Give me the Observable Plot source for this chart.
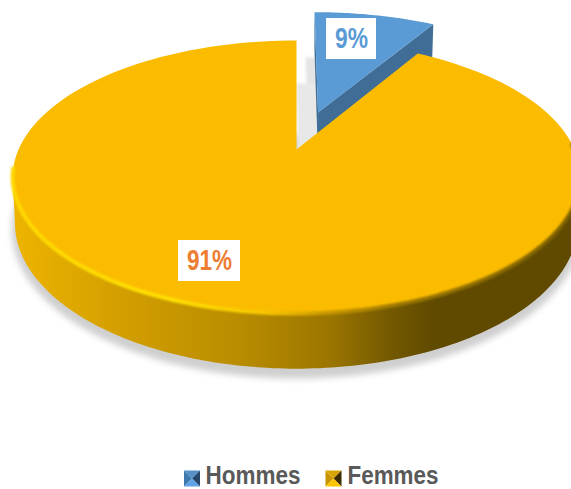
<!DOCTYPE html>
<html>
<head>
<meta charset="utf-8">
<script src="https://cdn.jsdelivr.net/npm/d3@7"></script>
<script src="https://cdn.jsdelivr.net/npm/@observablehq/plot@0.6"></script>
<style>html,body{margin:0;padding:0;background:#fff;overflow:hidden}svg{display:block}</style>
</head>
<body>
<div id="chart"></div>
<script>
const categories = ["Hommes", "Femmes"];
const shares = [8.55, 91.45];
const sliceLabels = ["9%", "91%"];

const W = 571, H = 489;
const cx = 296, cy = 149, a = 278, b = 131, k = 0.2015, T = 44;
const rad = d => d * Math.PI / 180;
function project(deg, r, opt = {}) {
  const {z = 0, du = 0, dv = 0, scale = 1} = opt;
  const u = r * Math.sin(rad(deg)) * scale + du;
  const v = r * Math.cos(rad(deg)) * scale + dv;
  const w = 1 + k * v;
  return {px: cx + (a * u / w) * (1 - 0.008 * z), py: cy - b * v / w + z * T / w};
}
const arc = (from, to, opt, n = 160) => d3.range(n + 1).map(i => project(from + (to - from) * i / n, 1, opt));
const total = d3.sum(shares);
const sweep = 360 * shares[0] / total;
const mid = sweep / 2;
const explode = 0.31;
const off = {du: explode * Math.sin(rad(mid)), dv: explode * Math.cos(rad(mid)), scale: 1.03};
const apex = project(0, 0);

const yellowTop = [apex, ...arc(sweep, 360)];
const blueTop = [project(0, 0, off), ...arc(0, sweep, off, 40)];
const blueCutWall = [project(0, 0, off), project(sweep, 1, off), project(sweep, 1, {...off, z: 1}), project(0, 0, {...off, z: 1})];
const blueLeftWall = [project(0, 0, off), project(0, 1, off), project(0, 1, {...off, z: 1}), project(0, 0, {...off, z: 1})];
const sideWall = [...arc(101.5, 258.5), ...arc(258.5, 101.5, {z: 1})];
const pieShadow = arc(60, 300, {z: 1.13, scale: 1.012});
const blueShadowNear = blueTop.map(p => ({px: p.px - 9, py: p.py + 45}));
const blueShadowFar = blueTop.map(p => ({px: p.px - 19, py: p.py + 71}));
const rimFront = arc(88, 262);

const poly = (pts, fill, extra = {}) => Plot.line(pts, {x: "px", y: "py", fill, stroke: "none", curve: "linear-closed", ...extra});

const defs = () => {
  const svg = d3.create("svg:defs");
  const grad = (id, stops) => {
    const g = svg.append("linearGradient").attr("id", id).attr("gradientUnits", "userSpaceOnUse")
      .attr("x1", 0).attr("x2", W).attr("y1", 0).attr("y2", 0);
    stops.forEach(([o, c]) => g.append("stop").attr("offset", o).attr("stop-color", c));
  };
  grad("wall", [[0.02, "#eeb400"], [0.2, "#d4a000"], [0.42, "#b98c00"], [0.58, "#9a7500"], [0.68, "#745900"], [0.76, "#604a00"], [1, "#604a00"]]);
  grad("rim", [[0.02, "#ffd800"], [0.3, "#ffe000"], [0.47, "#f6c400"], [0.58, "#c59500"], [0.7, "#9a7600"], [1, "#7c6000"]]);
  return svg.node();
};

const legendKeys = [
  {name: categories[0], sx: 191.5, tx: 205, len: 95, colors: ["#3f78ac", "#5590c8", "#27476a", "#5fa4e4"]},
  {name: categories[1], sx: 333, tx: 347, len: 91, colors: ["#c89500", "#d9a400", "#3a2c00", "#ffc400"]}
];
const h = 8;
const tri = (x1, y1, x2, y2) => ({draw(c) { c.moveTo(0, 0); c.lineTo(x1, y1); c.lineTo(x2, y2); c.closePath(); }});
const swatchFaces = [tri(-h, -h, -h, h), tri(-h, -h, h, -h), tri(h, -h, h, h), tri(-h, h, h, h)];
const swatchMarks = swatchFaces.map((symbol, i) =>
  Plot.dot(legendKeys, {x: "sx", y: () => 478, r: h, symbol, fill: d => d.colors[i], stroke: "none"}));

const labelBoxes = [
  {text: sliceLabels[0], x: 351, y: 38.5, w: 50, h: 41, len: 33, color: "#5b9bd5"},
  {text: sliceLabels[1], x: 209, y: 260.5, w: 62, h: 41, len: 45, color: "#ed7d31"}
];
const font = "'Liberation Sans','Arial',sans-serif";

const chart = Plot.plot({
  width: W, height: H, margin: 0,
  x: {domain: [0, W], range: [0, W], axis: null},
  y: {domain: [0, H], range: [0, H], axis: null},
  style: {background: "#fff"},
  marks: [
    defs,
    poly(pieShadow, "#cfcfcf", {imageFilter: "blur(3px)"}),
    poly(blueShadowNear, "#e4e4e4", {imageFilter: "blur(1.5px)"}),
    poly(blueShadowFar, "#e8e8e8", {imageFilter: "blur(1.5px)"}),
    poly(blueLeftWall, "#3f6d96"),
    poly(blueCutWall, "#3f6d96"),
    poly(blueTop, "#5b9bd5"),
    poly(sideWall, "url(#wall)"),
    poly(yellowTop, "#fbbc00"),
    Plot.line(rimFront, {x: "px", y: "py", stroke: "url(#rim)", strokeWidth: 4, imageFilter: "blur(1px)"}),
    Plot.rect(labelBoxes, {x1: d => d.x - d.w / 2, x2: d => d.x + d.w / 2, y1: d => d.y - d.h / 2, y2: d => d.y + d.h / 2, fill: "#fff", inset: 0}),
    Plot.text(labelBoxes, {x: "x", y: "y", text: "text", fill: "color", fontSize: 29, fontWeight: 700, fontFamily: font}),
    ...swatchMarks,
    Plot.text(legendKeys, {x: "tx", y: () => 475.5, text: "name", textAnchor: "start", fill: "#595959", fontSize: 25, fontWeight: 700, fontFamily: font})
  ]
});
// Narrow the bold face to the condensed widths of the original
const lengths = new Map([...labelBoxes.map(d => [d.text, d.len]), ...legendKeys.map(d => [d.name, d.len])]);
chart.querySelectorAll("text").forEach(t => {
  const len = lengths.get(t.textContent);
  if (len) { t.setAttribute("textLength", len); t.setAttribute("lengthAdjust", "spacingAndGlyphs"); }
});
document.getElementById("chart").append(chart);
</script>
</body>
</html>
